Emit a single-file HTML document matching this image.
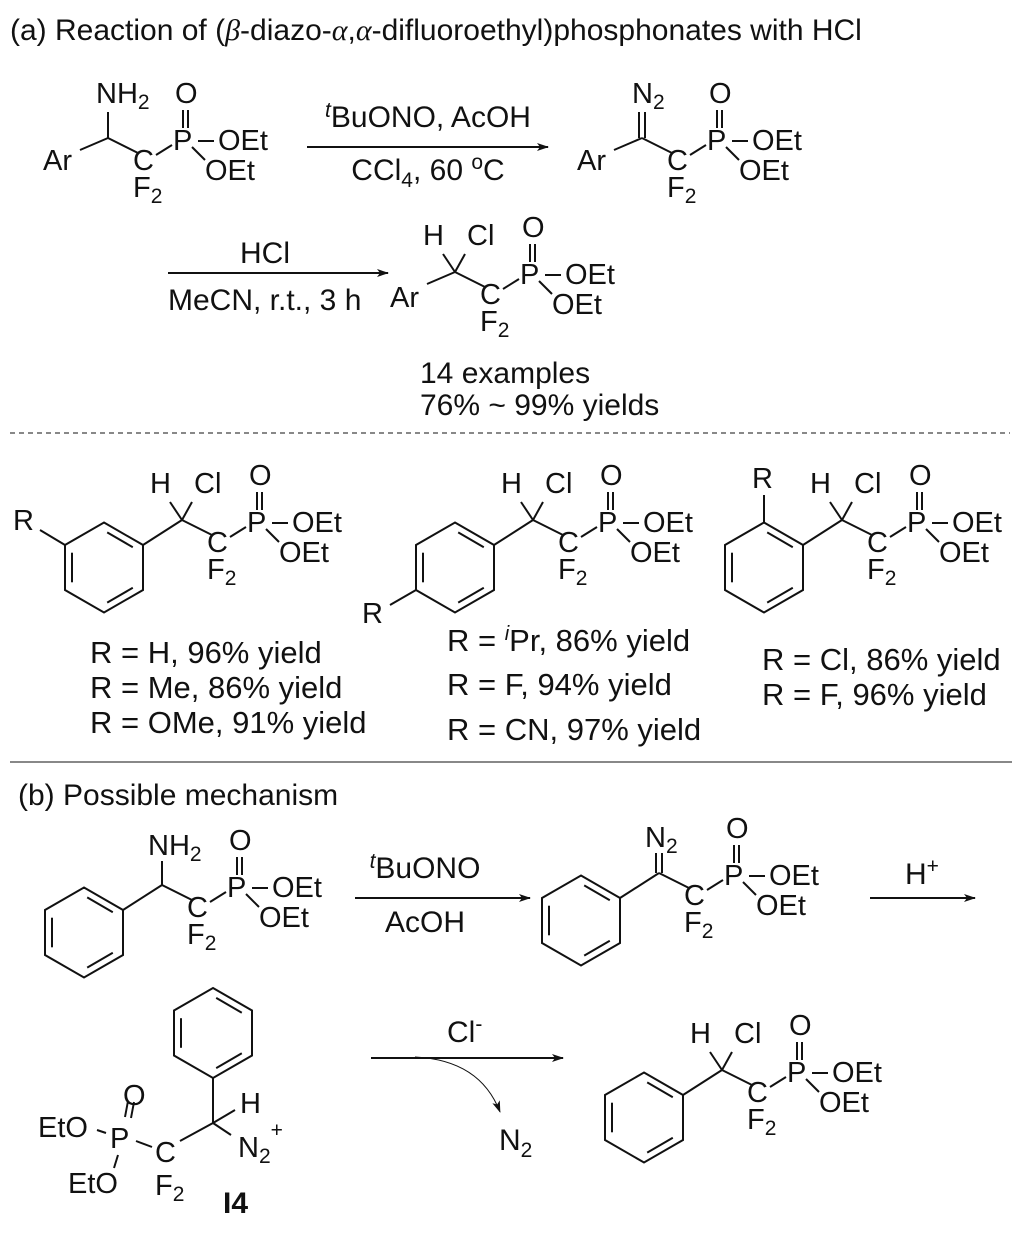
<!DOCTYPE html>
<html><head><meta charset="utf-8"><style>
html,body{margin:0;padding:0;background:#fff;}
svg{display:block;}
text{font-family:"Liberation Sans",Arial,sans-serif;font-size:29px;fill:#111;}
.t{font-size:30px;}
.y{font-size:31px;}
line,path,polygon,polyline{stroke:#111;stroke-width:2;fill:none;}
</style></head><body>
<svg width="1021" height="1234" viewBox="0 0 1021 1234" xmlns="http://www.w3.org/2000/svg">
<defs>
<marker id="ah" markerWidth="12" markerHeight="8" refX="11" refY="4" orient="auto" markerUnits="userSpaceOnUse"><path d="M0,0 L12,4 L0,8 L3,4 Z" style="fill:#111;stroke:none"/></marker>
<g id="ring">
<polygon points="0,-45 39,-22.5 39,22.5 0,45 -39,22.5 -39,-22.5"/>
<line x1="3.2" y1="-35.1" x2="28.8" y2="-20.3"/>
<line x1="-32" y1="-14.8" x2="-32" y2="14.8"/>
<line x1="3.2" y1="35.1" x2="28.8" y2="20.3"/>
</g>
<g id="chain">
<line x1="0" y1="0" x2="30" y2="15"/>
<line x1="48" y1="17" x2="64" y2="7"/>
<line x1="75" y1="-28" x2="75" y2="-10"/>
<line x1="80" y1="-28" x2="80" y2="-10"/>
<line x1="90" y1="3" x2="106" y2="3"/>
<line x1="84" y1="9" x2="97" y2="22"/>
</g>
<g id="hcl">
<line x1="0" y1="0" x2="-12" y2="-18"/>
<line x1="0" y1="0" x2="10" y2="-18"/>
</g>
</defs>

<text x="10" y="40" class="t">(a) Reaction of (<tspan font-style="italic" font-family="Liberation Serif">β</tspan>-diazo-<tspan font-style="italic" font-family="Liberation Serif">α</tspan>,<tspan font-style="italic" font-family="Liberation Serif">α</tspan>-difluoroethyl)phosphonates with HCl</text>

<!-- S1 -->
<g transform="translate(108,138)">
<use href="#chain"/>
<line x1="-28" y1="12" x2="0" y2="0"/><line x1="0" y1="0" x2="0" y2="-26"/>
<text x="-65" y="32">Ar</text>
<text x="-12" y="-35">NH<tspan dy="6" font-size="21">2</tspan></text>
<text x="25" y="32">C</text><text x="25" y="59">F<tspan dy="6" font-size="21">2</tspan></text>
<text x="65" y="12">P</text><text x="67" y="-35">O</text>
<text x="110" y="12">OEt</text><text x="97" y="42">OEt</text>
</g>

<line x1="307" y1="147" x2="548" y2="147" marker-end="url(#ah)"/>
<text x="428" y="127" text-anchor="middle" class="t"><tspan font-size="21" dy="-10" font-style="italic">t</tspan><tspan dy="10">BuONO, AcOH</tspan></text>
<text x="428" y="180" text-anchor="middle" class="t">CCl<tspan dy="7" font-size="21">4</tspan><tspan dy="-7">, 60 </tspan><tspan dy="-11" font-size="21">o</tspan><tspan dy="11">C</tspan></text>

<!-- S2 diazo -->
<g transform="translate(642,138)">
<use href="#chain"/>
<line x1="-28" y1="12" x2="0" y2="0"/>
<line x1="-3" y1="0" x2="-3" y2="-26"/><line x1="3" y1="0" x2="3" y2="-26"/>
<text x="-65" y="32">Ar</text>
<text x="-10" y="-35">N<tspan dy="6" font-size="21">2</tspan></text>
<text x="25" y="32">C</text><text x="25" y="59">F<tspan dy="6" font-size="21">2</tspan></text>
<text x="65" y="12">P</text><text x="67" y="-35">O</text>
<text x="110" y="12">OEt</text><text x="97" y="42">OEt</text>
</g>

<line x1="168" y1="273" x2="388" y2="273" marker-end="url(#ah)"/>
<text x="265" y="263" text-anchor="middle" class="t">HCl</text>
<text x="168" y="310" class="t">MeCN, r.t., 3 h</text>

<!-- S3 -->
<g transform="translate(455,272)">
<use href="#chain"/><use href="#hcl"/>
<line x1="-28" y1="12" x2="0" y2="0"/>
<text x="-65" y="35">Ar</text>
<text x="-32" y="-27">H</text><text x="12" y="-27">Cl</text>
<text x="25" y="32">C</text><text x="25" y="59">F<tspan dy="6" font-size="21">2</tspan></text>
<text x="65" y="12">P</text><text x="67" y="-35">O</text>
<text x="110" y="12">OEt</text><text x="97" y="42">OEt</text>
</g>
<text x="420" y="383" class="t">14 examples</text>
<text x="420" y="415" class="t">76% ~ 99% yields</text>

<line x1="10" y1="433" x2="1010" y2="433" stroke-dasharray="5,4" style="stroke-width:1"/>

<!-- S4 meta -->
<g transform="translate(182,520)">
<use href="#chain"/><use href="#hcl"/>
<line x1="-39" y1="25" x2="0" y2="0"/>
<text x="-32" y="-27">H</text><text x="12" y="-27">Cl</text>
<text x="25" y="32">C</text><text x="25" y="59">F<tspan dy="6" font-size="21">2</tspan></text>
<text x="65" y="12">P</text><text x="67" y="-35">O</text>
<text x="110" y="12">OEt</text><text x="97" y="42">OEt</text>
</g>
<use href="#ring" transform="translate(104,567.5)"/>
<line x1="65" y1="545" x2="40" y2="530"/>
<text x="13" y="530">R</text>

<!-- S5 para -->
<g transform="translate(533,520)">
<use href="#chain"/><use href="#hcl"/>
<line x1="-39" y1="25" x2="0" y2="0"/>
<text x="-32" y="-27">H</text><text x="12" y="-27">Cl</text>
<text x="25" y="32">C</text><text x="25" y="59">F<tspan dy="6" font-size="21">2</tspan></text>
<text x="65" y="12">P</text><text x="67" y="-35">O</text>
<text x="110" y="12">OEt</text><text x="97" y="42">OEt</text>
</g>
<use href="#ring" transform="translate(455,567.5)"/>
<line x1="416" y1="590" x2="390" y2="605"/>
<text x="362" y="623">R</text>

<!-- S6 ortho -->
<g transform="translate(842,520)">
<use href="#chain"/><use href="#hcl"/>
<line x1="-39" y1="25" x2="0" y2="0"/>
<text x="-32" y="-27">H</text><text x="12" y="-27">Cl</text>
<text x="25" y="32">C</text><text x="25" y="59">F<tspan dy="6" font-size="21">2</tspan></text>
<text x="65" y="12">P</text><text x="67" y="-35">O</text>
<text x="110" y="12">OEt</text><text x="97" y="42">OEt</text>
</g>
<use href="#ring" transform="translate(764,567.5)"/>
<line x1="764" y1="522" x2="764" y2="495"/>
<text x="752" y="488">R</text>

<text x="90" y="663" class="y">R = H, 96% yield</text>
<text x="90" y="698" class="y">R = Me, 86% yield</text>
<text x="90" y="733" class="y">R = OMe, 91% yield</text>
<text x="447" y="651" class="y">R = <tspan font-size="20" dy="-11" font-style="italic">i</tspan><tspan dy="11">Pr, 86% yield</tspan></text>
<text x="447" y="695" class="y">R = F, 94% yield</text>
<text x="447" y="740" class="y">R = CN, 97% yield</text>
<text x="762" y="670" class="y">R = Cl, 86% yield</text>
<text x="762" y="705" class="y">R = F, 96% yield</text>

<line x1="10" y1="762" x2="1012" y2="762" style="stroke-width:1"/>
<text x="18" y="805" class="t">(b) Possible mechanism</text>

<!-- M1 -->
<g transform="translate(162,885)">
<use href="#chain"/>
<line x1="-39" y1="25" x2="0" y2="0"/><line x1="0" y1="0" x2="0" y2="-24"/>
<text x="-14" y="-30">NH<tspan dy="6" font-size="21">2</tspan></text>
<text x="25" y="32">C</text><text x="25" y="59">F<tspan dy="6" font-size="21">2</tspan></text>
<text x="65" y="12">P</text><text x="67" y="-35">O</text>
<text x="110" y="12">OEt</text><text x="97" y="42">OEt</text>
</g>
<use href="#ring" transform="translate(84,932.5)"/>

<line x1="355" y1="898" x2="530" y2="898" marker-end="url(#ah)"/>
<text x="425" y="878" text-anchor="middle" class="t"><tspan font-size="21" dy="-10" font-style="italic">t</tspan><tspan dy="10">BuONO</tspan></text>
<text x="425" y="932" text-anchor="middle" class="t">AcOH</text>

<!-- M2 -->
<g transform="translate(659,873)">
<use href="#chain"/>
<line x1="-39" y1="25" x2="0" y2="0"/>
<line x1="-3" y1="0" x2="-3" y2="-20"/><line x1="3" y1="0" x2="3" y2="-20"/>
<text x="-14" y="-26">N<tspan dy="6" font-size="21">2</tspan></text>
<text x="25" y="32">C</text><text x="25" y="59">F<tspan dy="6" font-size="21">2</tspan></text>
<text x="65" y="12">P</text><text x="67" y="-35">O</text>
<text x="110" y="12">OEt</text><text x="97" y="42">OEt</text>
</g>
<use href="#ring" transform="translate(581,920.5)"/>

<line x1="870" y1="898" x2="975" y2="898" marker-end="url(#ah)"/>
<text x="905" y="884" class="t">H<tspan dy="-11" font-size="21">+</tspan></text>

<!-- I4 -->
<use href="#ring" transform="translate(213,1033)"/>
<line x1="213" y1="1078" x2="213" y2="1123"/>
<line x1="213" y1="1123" x2="235" y2="1110"/>
<line x1="213" y1="1123" x2="231" y2="1135"/>
<line x1="213" y1="1123" x2="180" y2="1141"/>
<line x1="152" y1="1147" x2="136" y2="1141"/>
<line x1="97" y1="1130" x2="106" y2="1133"/>
<line x1="118" y1="1155" x2="114" y2="1168"/>
<line x1="125" y1="1117" x2="128" y2="1101"/>
<line x1="131" y1="1118" x2="134" y2="1102"/>
<text x="240" y="1113">H</text>
<text x="238" y="1157">N<tspan dy="6" font-size="21">2</tspan><tspan dy="-26" font-size="21">+</tspan></text>
<text x="155" y="1162">C</text>
<text x="155" y="1195">F<tspan dy="6" font-size="21">2</tspan></text>
<text x="110" y="1148">P</text>
<text x="123" y="1105">O</text>
<text x="38" y="1137">EtO</text>
<text x="68" y="1193">EtO</text>
<text x="223" y="1213" class="t" font-weight="bold">I4</text>

<line x1="371" y1="1058" x2="563" y2="1058" marker-end="url(#ah)"/>
<text x="447" y="1042" class="t">Cl<tspan dy="-11" font-size="21">-</tspan></text>
<path d="M415,1057 Q480,1060 500,1112" style="stroke-width:1" marker-end="url(#ah)"/>
<text x="499" y="1150" class="t">N<tspan dy="7" font-size="21">2</tspan></text>

<!-- M3 -->
<g transform="translate(722,1070)">
<use href="#chain"/><use href="#hcl"/>
<line x1="-39" y1="25" x2="0" y2="0"/>
<text x="-32" y="-27">H</text><text x="12" y="-27">Cl</text>
<text x="25" y="32">C</text><text x="25" y="59">F<tspan dy="6" font-size="21">2</tspan></text>
<text x="65" y="12">P</text><text x="67" y="-35">O</text>
<text x="110" y="12">OEt</text><text x="97" y="42">OEt</text>
</g>
<use href="#ring" transform="translate(644,1117.5)"/>
</svg>
</body></html>
